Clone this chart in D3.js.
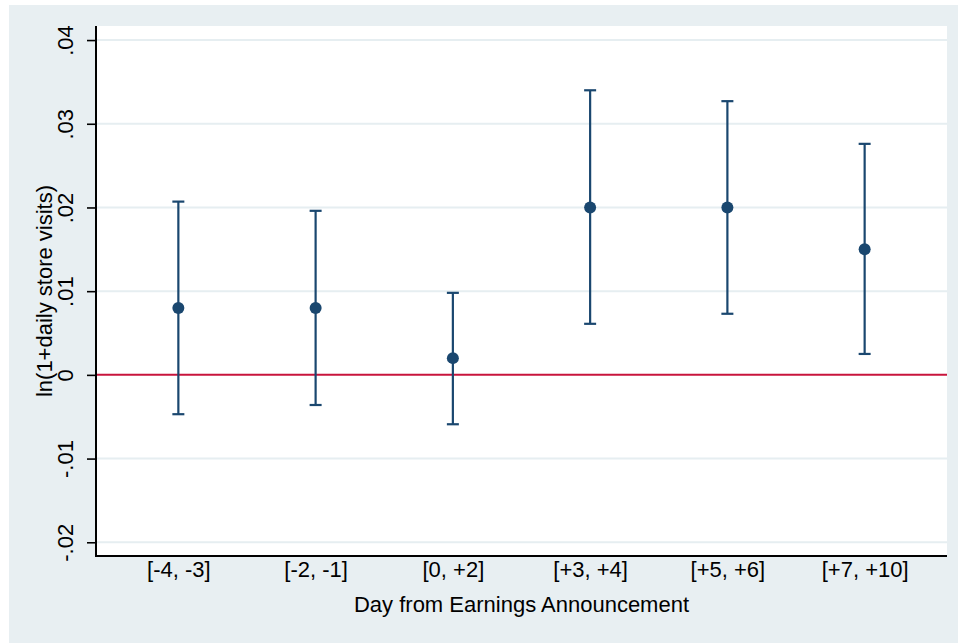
<!DOCTYPE html>
<html>
<head>
<meta charset="utf-8">
<script src="https://cdn.jsdelivr.net/npm/d3@7"></script>
<style>
  html, body { margin: 0; padding: 0; background: #ffffff; }
  svg { display: block; }
  text { font-family: "Liberation Sans", Arial, sans-serif; fill: #000; }
</style>
</head>
<body>
<svg id="chart" width="958" height="643"></svg>
<script>
// Event-window coefficients with 95% confidence intervals
const windows = ["[-4, -3]", "[-2, -1]", "[0, +2]", "[+3, +4]", "[+5, +6]", "[+7, +10]"];
const estimate = [0.008, 0.008, 0.002, 0.020, 0.020, 0.015];
const ciLower = [-0.0047, -0.0036, -0.0059, 0.0061, 0.0073, 0.0025];
const ciUpper = [0.0207, 0.0196, 0.0098, 0.0340, 0.0327, 0.0276];
const yTicks = [-0.02, -0.01, 0, 0.01, 0.02, 0.03, 0.04];
const yTickLabels = ["-.02", "-.01", "0", ".01", ".02", ".03", ".04"];

const svg = d3.select("#chart");
const W = 958, H = 643;
const plot = { left: 96, right: 947, top: 26, bottom: 556 };

const navy = "#1a476f";
const zeroRed = "#c8143c";
const gridCol = "#e6eef1";

// outer graph region
svg.append("rect").attr("x", 9).attr("y", 5).attr("width", W - 9).attr("height", H - 5)
  .attr("fill", "#e8eff2");
// plot region
svg.append("rect").attr("x", plot.left).attr("y", plot.top)
  .attr("width", plot.right - plot.left).attr("height", plot.bottom - plot.top)
  .attr("fill", "#ffffff");

const x = d3.scaleLinear().domain([0.4, 6.6]).range([plot.left, plot.right]);
const y = d3.scaleLinear().domain([-0.02164, 0.04168]).range([plot.bottom, plot.top]);

// horizontal grid lines
svg.append("g").selectAll("line").data(yTicks.filter(v => v !== 0)).join("line")
  .attr("x1", plot.left).attr("x2", plot.right)
  .attr("y1", d => y(d)).attr("y2", d => y(d))
  .attr("stroke", gridCol).attr("stroke-width", 2);

// reference line at zero
svg.append("line")
  .attr("x1", plot.left).attr("x2", plot.right)
  .attr("y1", y(0)).attr("y2", y(0))
  .attr("stroke", zeroRed).attr("stroke-width", 2);

// y axis
const yAxis = d3.axisLeft(y).tickValues(yTicks).tickSize(9)
  .tickFormat((d, i) => yTickLabels[i]);
const gy = svg.append("g").attr("transform", `translate(${plot.left},0)`).call(yAxis);
gy.select(".domain").attr("stroke", "#000").attr("stroke-width", 2)
  .attr("d", `M0,${plot.top}V${plot.bottom + 1}`);
gy.selectAll(".tick line").attr("stroke", "#000").attr("stroke-width", 1.6);
gy.selectAll(".tick text")
  .attr("x", null).attr("dy", null)
  .attr("transform", "translate(-23,0) rotate(-90)")
  .attr("text-anchor", "middle")
  .attr("font-size", 22)
  .attr("fill", "#000");

// x axis
const xAxis = d3.axisBottom(x).tickValues(d3.range(1, windows.length + 1)).tickSize(0)
  .tickFormat((d, i) => windows[i]);
const gx = svg.append("g").attr("transform", `translate(0,${plot.bottom})`).call(xAxis);
gx.select(".domain").attr("stroke", "#000").attr("stroke-width", 2)
  .attr("d", `M${plot.left - 1},0H${plot.right}`);
gx.selectAll(".tick text")
  .attr("y", 21).attr("dy", null)
  .attr("font-size", 22).attr("fill", "#000");

// axis titles
svg.append("text")
  .attr("x", (plot.left + plot.right) / 2).attr("y", 612)
  .attr("text-anchor", "middle").attr("font-size", 22)
  .text("Day from Earnings Announcement");
svg.append("text")
  .attr("transform", `translate(52,${(plot.top + plot.bottom) / 2}) rotate(-90)`)
  .attr("text-anchor", "middle").attr("font-size", 22)
  .text("ln(1+daily store visits)");

// confidence intervals with caps
const data = windows.map((w, i) => ({ i: i + 1, est: estimate[i], lo: ciLower[i], hi: ciUpper[i] }));
const cap = 6;
const bars = svg.append("g").attr("stroke", navy).attr("stroke-width", 2.2);
bars.selectAll(".stem").data(data).join("line")
  .attr("x1", d => x(d.i)).attr("x2", d => x(d.i))
  .attr("y1", d => y(d.lo)).attr("y2", d => y(d.hi));
bars.selectAll(".capTop").data(data).join("line")
  .attr("x1", d => x(d.i) - cap).attr("x2", d => x(d.i) + cap)
  .attr("y1", d => y(d.hi)).attr("y2", d => y(d.hi));
bars.selectAll(".capBot").data(data).join("line")
  .attr("x1", d => x(d.i) - cap).attr("x2", d => x(d.i) + cap)
  .attr("y1", d => y(d.lo)).attr("y2", d => y(d.lo));

// point estimates
svg.append("g").selectAll("circle").data(data).join("circle")
  .attr("cx", d => x(d.i)).attr("cy", d => y(d.est))
  .attr("r", 6).attr("fill", navy);
</script>
</body>
</html>
